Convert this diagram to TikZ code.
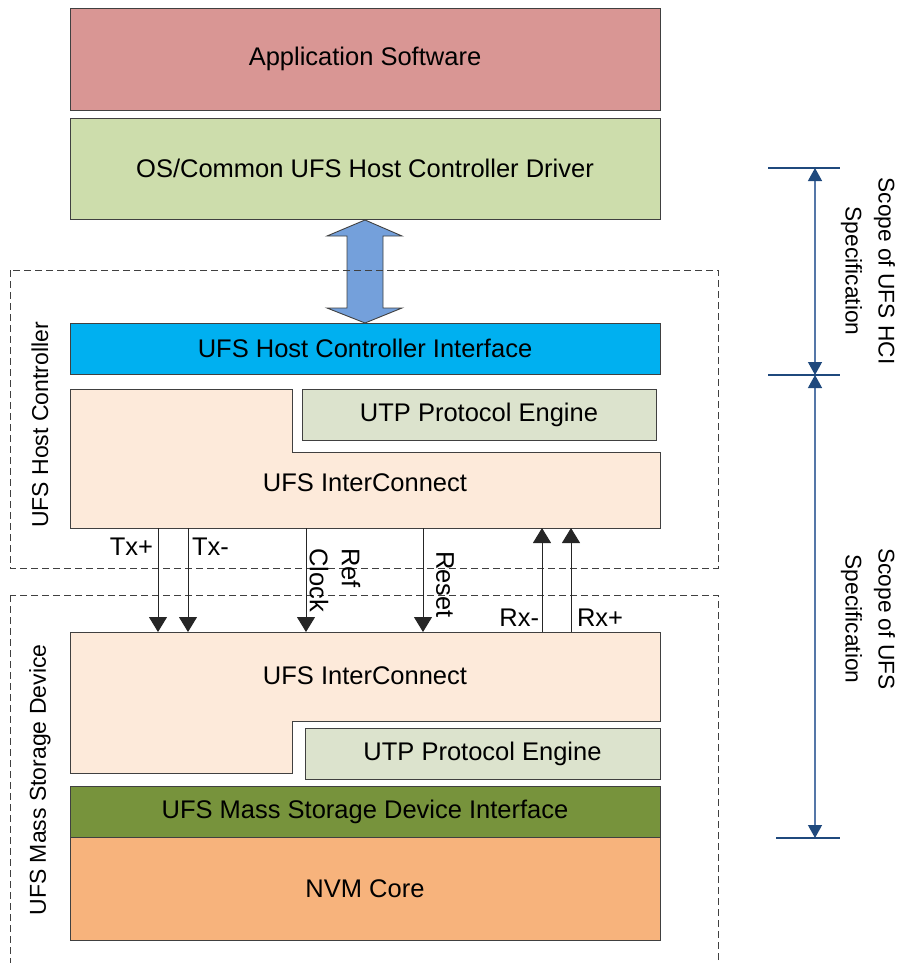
\documentclass[tikz,border=0pt]{standalone}
\usepackage{fontspec}
\setmainfont{Liberation Sans}
\usetikzlibrary{arrows.meta}
\definecolor{appc}{HTML}{D99694}
\definecolor{osc}{HTML}{CDDDAC}
\definecolor{hcic}{HTML}{00B0F0}
\definecolor{icc}{HTML}{FDEADA}
\definecolor{utpc}{HTML}{DCE3CD}
\definecolor{msdc}{HTML}{77933C}
\definecolor{nvmc}{HTML}{F7B37C}
\definecolor{bigarr}{HTML}{74A0DB}
\definecolor{scopedark}{HTML}{1F497D}
\definecolor{scopeline}{HTML}{5577A8}
\definecolor{edge}{HTML}{404040}
\begin{document}
\begin{tikzpicture}[x=1pt,y=-1pt,
  font=\fontsize{25.5}{30}\selectfont,
  box/.style={draw=edge, line width=0.9pt, inner sep=0pt, outer sep=0pt, minimum width=590pt},
  plain/.style={inner sep=0pt, outer sep=0pt},
  sig/.style={draw=black!85, line width=1pt, -{Triangle[width=18pt,length=15pt]}},
  dashbox/.style={draw=edge, line width=0.9pt, dash pattern=on 7pt off 4pt},
  scopetick/.style={draw=scopedark, line width=2pt},
  scopearr/.style={draw=scopeline, line width=1.3pt, {Triangle[width=14pt,length=13pt,color=scopedark]}-{Triangle[width=14pt,length=13pt,color=scopedark]}},
  rotlab/.style={inner sep=0pt, outer sep=0pt, rotate=-90},
  scopelab/.style={inner sep=0pt, rotate=-90, align=center, font=\fontsize{22.7}{33}\selectfont},
  sidelab/.style={inner sep=0pt, rotate=90, font=\fontsize{23}{28}\selectfont}
]
\useasboundingbox (0,0) rectangle (899,963);

% top boxes
\node[box, fill=appc, minimum height=102pt] (app) at (365,59) {Application Software};
\node[box, fill=osc, minimum height=101pt] (os) at (365,168.5) {OS/Common UFS Host Controller Driver};

% big double arrow
\filldraw[fill=bigarr, draw=edge, line width=0.9pt]
  (365,220) -- (402,236) -- (383,236) -- (383,308) -- (402,308) -- (365,323)
  -- (327,308) -- (347,308) -- (347,236) -- (327,236) -- cycle;

% host controller
\node[box, fill=hcic, minimum height=51pt] (hci) at (365,348.5) {UFS Host Controller Interface};
\filldraw[fill=icc, draw=edge, line width=0.9pt]
  (70,389) -- (292,389) -- (292,452) -- (660,452) -- (660,528) -- (70,528) -- cycle;
\node[plain, minimum width=590pt, minimum height=76pt] (hic) at (365,490) {};
\node[plain] (hictext) at (365,483) {UFS InterConnect};
\node[box, fill=utpc, minimum width=354pt, minimum height=51pt] (hutp) at (479,414.5) {UTP Protocol Engine};

% device
\filldraw[fill=icc, draw=edge, line width=0.9pt]
  (70,632) -- (660,632) -- (660,721) -- (292,721) -- (292,773) -- (70,773) -- cycle;
\node[plain, minimum width=590pt, minimum height=89pt] (dic) at (365,676.5) {};
\node[plain] (dictext) at (365,676) {UFS InterConnect};
\node[box, fill=utpc, minimum width=355pt, minimum height=51pt] (dutp) at (482.5,753.5) {UTP Protocol Engine};
\node[box, fill=msdc, minimum height=51pt] (msd) at (365,811.5) {UFS Mass Storage Device Interface};
\node[box, fill=nvmc, minimum height=103pt] (nvm) at (365,888.5) {NVM Core};

% dashed enclosures
\draw[dashbox] (10,270) rectangle (718,568);
\draw[dashbox] (10,595) rectangle (718,990);
\node[sidelab] (hclab) at (40,425) {UFS Host Controller};
\node[sidelab] (msdlab) at (40,780) {UFS Mass Storage Device};

% signals
\draw[sig] (hic.south -| 158,0) -- (dic.north -| 158,0);
\draw[sig] (hic.south -| 188,0) -- (dic.north -| 188,0);
\draw[sig] (hic.south -| 306,0) -- (dic.north -| 306,0);
\draw[sig] (hic.south -| 423,0) -- (dic.north -| 423,0);
\draw[sig] (dic.north -| 542,0) -- (hic.south -| 542,0);
\draw[sig] (dic.north -| 571,0) -- (hic.south -| 571,0);
\node[plain, anchor=base east] (txp) at (153,555) {Tx+};
\node[plain, anchor=base west] (txm) at (192,555) {Tx-};
\node[rotlab, anchor=west, align=left, font=\fontsize{25.5}{32}\selectfont] (refclk) at (335,548) {Ref\\Clock};
\node[rotlab, anchor=west] (reset) at (445,551) {Reset};
\node[plain, anchor=base east] (rxm) at (539,626) {Rx-};
\node[plain, anchor=base west] (rxp) at (577,626) {Rx+};

% scope dimension
\coordinate (s1) at (815,168);
\coordinate (s2) at (815,375);
\coordinate (s3) at (815,838);
\draw[scopetick] (768,168) -- (840,168);
\draw[scopetick] (768,375) -- (840,375);
\draw[scopetick] (776,838) -- (840,838);
\draw[scopearr] (s1) -- (s2);
\draw[scopearr] (s2) -- (s3);
\node[scopelab] (hcis) at (868,271) {Scope of UFS HCI\\Specification};
\node[scopelab] (ufss) at (868,619) {Scope of UFS\\Specification};
\end{tikzpicture}
\end{document}
